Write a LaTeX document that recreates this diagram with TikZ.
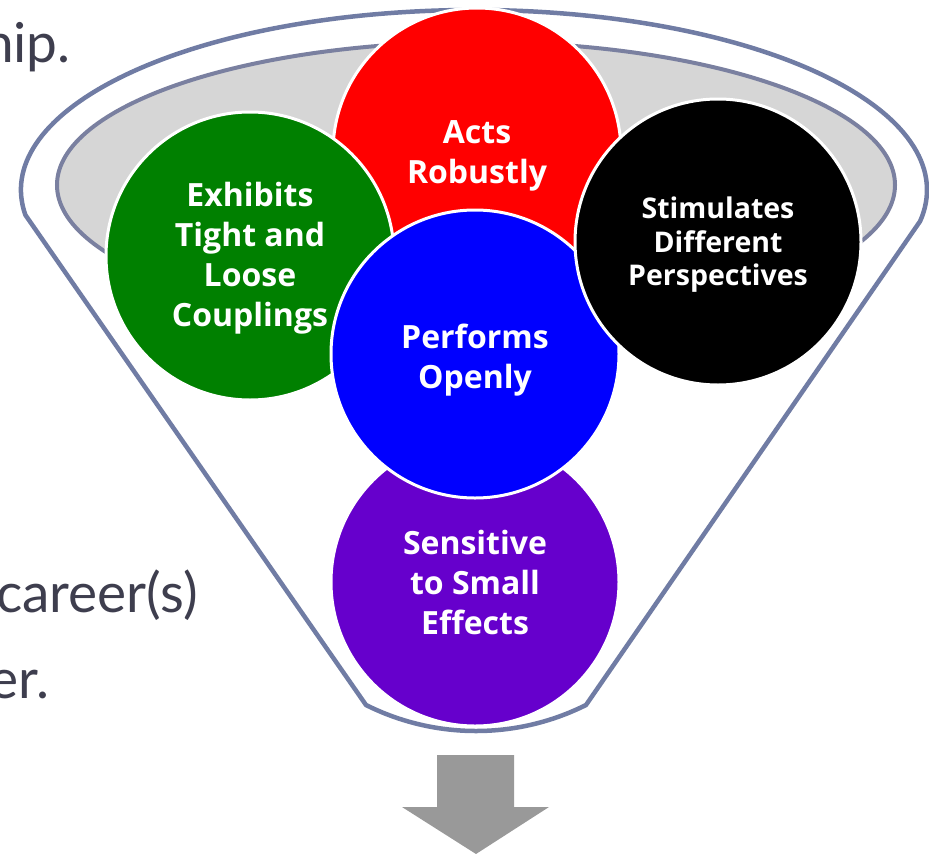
\documentclass[tikz,border=0pt]{standalone}
\usepackage{fontspec}
\setmainfont{Lato}
\newfontfamily\ballfont{Open Sans}
\definecolor{funnelline}{RGB}{112,124,164}
\definecolor{innerline}{RGB}{122,128,160}
\definecolor{innerfill}{RGB}{214,214,214}
\definecolor{bodytext}{RGB}{62,62,78}
\definecolor{cred}{RGB}{255,0,0}
\definecolor{cgreen}{RGB}{0,128,0}
\definecolor{cblue}{RGB}{0,0,255}
\definecolor{cpurple}{RGB}{102,0,204}
\definecolor{arrowgray}{RGB}{153,153,153}
\tikzset{
  ball/.style={circle, draw=white, line width=3pt, inner sep=0pt, minimum size=288pt},
  balltext/.style={text=white, align=center, inner sep=0pt, font=\ballfont\bfseries\fontsize{32}{40}\selectfont},
  bodyline/.style={anchor=base east, text=bodytext, inner sep=0pt, font=\fontsize{55}{60}\selectfont},
}
\begin{document}
\begin{tikzpicture}[x=1pt,y=-1pt]
\useasboundingbox (0,0) rectangle (929,854);
\begin{scope}
\clip (0,0) rectangle (929,854);
% left body text (cut off)
\node[bodyline] (t1) at (71,62) {hip.};
\node[bodyline] (t2) at (198,612) {career(s)};
\node[bodyline] (t3) at (50,698) {er.};
% funnel outline
\draw[funnelline, line width=4.5pt, fill=white, line join=round]
  (25.4,215) arc[start angle=172, end angle=370, x radius=453, y radius=180]
  -- (586,705) arc[start angle=63.4, end angle=116.6, radius=245.7]
  -- cycle;
% inner gray ellipse
\draw[innerline, line width=4pt, fill=innerfill] (476,185) ellipse[x radius=419, y radius=143];
% circles
\node[ball, fill=cpurple] (purple) at (475,582) {};
\node[balltext] (purple-t) at ([yshift=0pt]purple.center) {Sensitive\\to Small\\Effects};
\node[ball, fill=cred] (red) at (477,152) {};
\node[balltext] (red-t) at ([yshift=-4pt]red.center) {Acts\\Robustly};
\node[ball, fill=cgreen] (green) at (250,256) {};
\node[balltext] (green-t) at ([yshift=-2pt]green.center) {Exhibits\\Tight and\\Loose\\Couplings};
\node[ball, fill=cblue] (blue) at (475,354) {};
\node[balltext] (blue-t) at ([yshift=-6pt]blue.center) {Performs\\Openly};
\node[ball, fill=black, minimum size=286pt] (black) at (718,242) {};
\node[balltext, font=\ballfont\bfseries\fontsize{28.5}{33.5}\selectfont] (black-t) at ([yshift=-3pt]black.center) {Stimulates\\Different\\Perspectives};
% down arrow
\fill[arrowgray] (437,755) -- (514,755) -- (514,807) -- (549,807) -- (476,854) -- (402,807) -- (437,807) -- cycle;
\end{scope}
\end{tikzpicture}
\end{document}
